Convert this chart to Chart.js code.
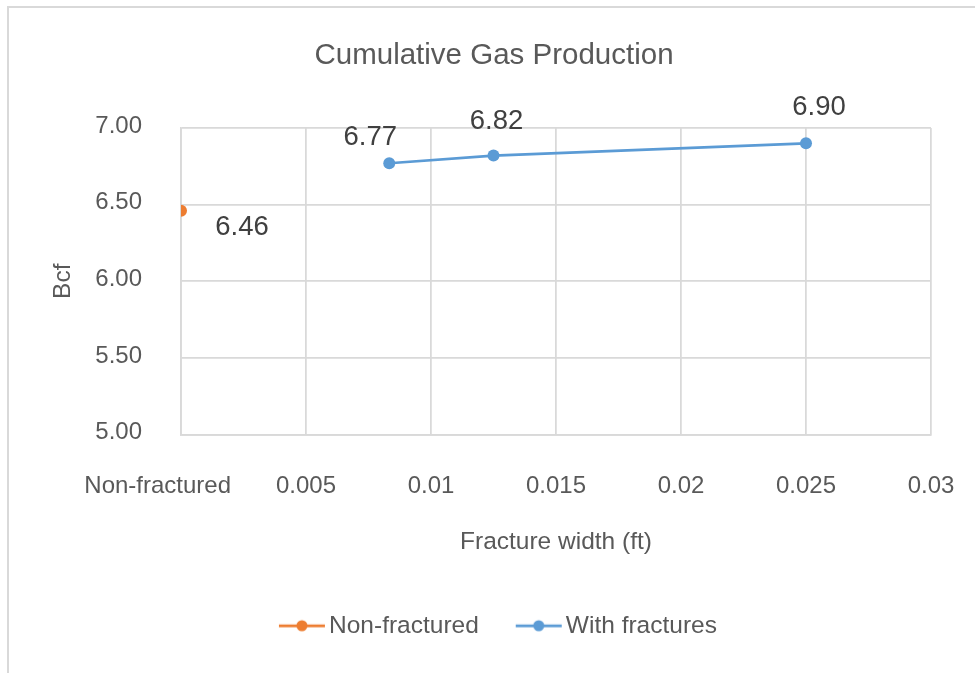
<!DOCTYPE html>
<html><head><meta charset="utf-8">
<script src="https://cdn.jsdelivr.net/npm/chart.js@4.4.1/dist/chart.umd.min.js"></script>
<style>
html,body{margin:0;padding:0;background:#fff;}
#frame{position:absolute;left:7px;top:6px;width:1000px;height:720px;border-left:2px solid #d9d9d9;border-top:2px solid #d9d9d9;}
#c{position:absolute;left:0;top:0;}
</style></head><body>
<div id="frame"></div>
<canvas id="c" width="975" height="673"></canvas>
<script>
// ---- data ----
const seriesNames = ['Non-fractured', 'With fractures'];
const nonFracX = [0];
const nonFracY = [6.46];
const fracX = [0.00833, 0.0125, 0.025];
const fracY = [6.77, 6.82, 6.90];
const xTicks = [0, 0.005, 0.01, 0.015, 0.02, 0.025, 0.03];
const xTickLabels = ['Non-fractured', '0.005', '0.01', '0.015', '0.02', '0.025', '0.03'];
const yTicks = [5.0, 5.5, 6.0, 6.5, 7.0];

// ---- styles ----
const ORANGE = '#ED7D31', BLUE = '#5B9BD5', GRID = '#d9d9d9', TXT = '#595959';
const NONE = 'rgba(0,0,0,0)';
const labelOffsets = [[{dx: 61, dy: 17}], [{dx: -19, dy: -26}, {dx: 3, dy: -34}, {dx: 13, dy: -36}]];

Chart.defaults.font.family = "'Liberation Sans', Arial, sans-serif";
Chart.defaults.color = TXT;

function legendIcon(color) {
  const c = document.createElement('canvas');
  c.width = 80; c.height = 14;
  const g = c.getContext('2d');
  g.strokeStyle = color; g.lineWidth = 2.75;
  g.beginPath(); g.moveTo(25, 7); g.lineTo(71, 7); g.stroke();
  g.fillStyle = color;
  g.beginPath(); g.arc(48, 7, 5.5, 0, Math.PI * 2); g.fill();
  return c;
}
const icons = [legendIcon(ORANGE), legendIcon(BLUE)];

const dataLabels = {
  id: 'dataLabels',
  afterDatasetsDraw(chart) {
    const ctx = chart.ctx;
    ctx.save();
    ctx.font = "27.5px 'Liberation Sans', Arial, sans-serif";
    ctx.fillStyle = '#404040';
    ctx.textAlign = 'center';
    ctx.textBaseline = 'middle';
    chart.data.datasets.forEach((ds, di) => {
      const meta = chart.getDatasetMeta(di);
      meta.data.forEach((pt, i) => {
        const o = labelOffsets[di][i];
        ctx.fillText(ds.data[i].y.toFixed(2), pt.x + o.dx, pt.y + o.dy);
      });
    });
    ctx.restore();
  }
};

const toPts = (xs, ys) => xs.map((x, i) => ({x: x, y: ys[i]}));

new Chart(document.getElementById('c'), {
  type: 'scatter',
  data: {
    datasets: [
      {label: seriesNames[0], data: toPts(nonFracX, nonFracY), showLine: true,
       borderColor: ORANGE, backgroundColor: ORANGE, borderWidth: 2.75,
       pointRadius: 6, pointBorderWidth: 0, pointBackgroundColor: ORANGE},
      {label: seriesNames[1], data: toPts(fracX, fracY), showLine: true,
       borderColor: BLUE, backgroundColor: BLUE, borderWidth: 2.75,
       pointRadius: 6, pointBorderWidth: 0, pointBackgroundColor: BLUE}
    ]
  },
  options: {
    responsive: false,
    animation: false,
    devicePixelRatio: 1,
    layout: {padding: {left: 13, right: 0, top: 0, bottom: 25}},
    plugins: {
      tooltip: {enabled: false},
      title: {
        display: true, text: 'Cumulative Gas Production', color: TXT,
        font: {size: 29.5, weight: 'normal'},
        padding: {top: 38.3, bottom: 54.3}
      },
      legend: {
        position: 'bottom',
        labels: {
          usePointStyle: true, pointStyleWidth: 45.75, padding: 29,
          color: TXT, font: {size: 24.5},
          generateLabels(chart) {
            const items = Chart.defaults.plugins.legend.labels.generateLabels(chart);
            items.forEach((it, i) => { it.pointStyle = icons[i]; });
            return items;
          }
        }
      }
    },
    scales: {
      x: {
        type: 'linear', min: 0, max: 0.03,
        afterBuildTicks(s) { s.ticks = xTicks.map(v => ({value: v})); },
        afterFit(s) { s.height = 150; },
        ticks: {
          padding: 3, font: {size: 24}, color: TXT, maxRotation: 0, autoSkip: false,
          callback(v, i) { return i === 0 ? xTickLabels[i] + '       ' : xTickLabels[i]; }
        },
        grid: {color: GRID, lineWidth: 1.75, drawTicks: true, tickLength: 34, tickColor: NONE},
        border: {color: GRID, width: 1.75},
        title: {display: true, text: 'Fracture width (ft)', color: TXT, font: {size: 24.5}, padding: {top: 0, bottom: 27.3}}
      },
      y: {
        min: 5, max: 7,
        afterBuildTicks(s) { s.ticks = yTicks.map(v => ({value: v})); },
        afterFit(s) { s.width = 168; },
        ticks: {
          padding: 3, font: {size: 24}, color: TXT, labelOffset: -2,
          callback(v) { return Number(v).toFixed(2); }
        },
        grid: {color: GRID, lineWidth: 1.75, drawTicks: true, tickLength: 36, tickColor: NONE},
        border: {color: GRID, width: 1.75},
        title: {display: true, text: 'Bcf', color: TXT, font: {size: 24.5}, padding: {top: 35.3, bottom: 0}}
      },
      yRight: {
        position: 'right', min: 0, max: 1,
        afterFit(s) { s.width = 44; },
        ticks: {display: false},
        grid: {display: false, drawTicks: false},
        border: {display: false}
      }
    }
  },
  plugins: [dataLabels]
});
</script>
</body></html>
